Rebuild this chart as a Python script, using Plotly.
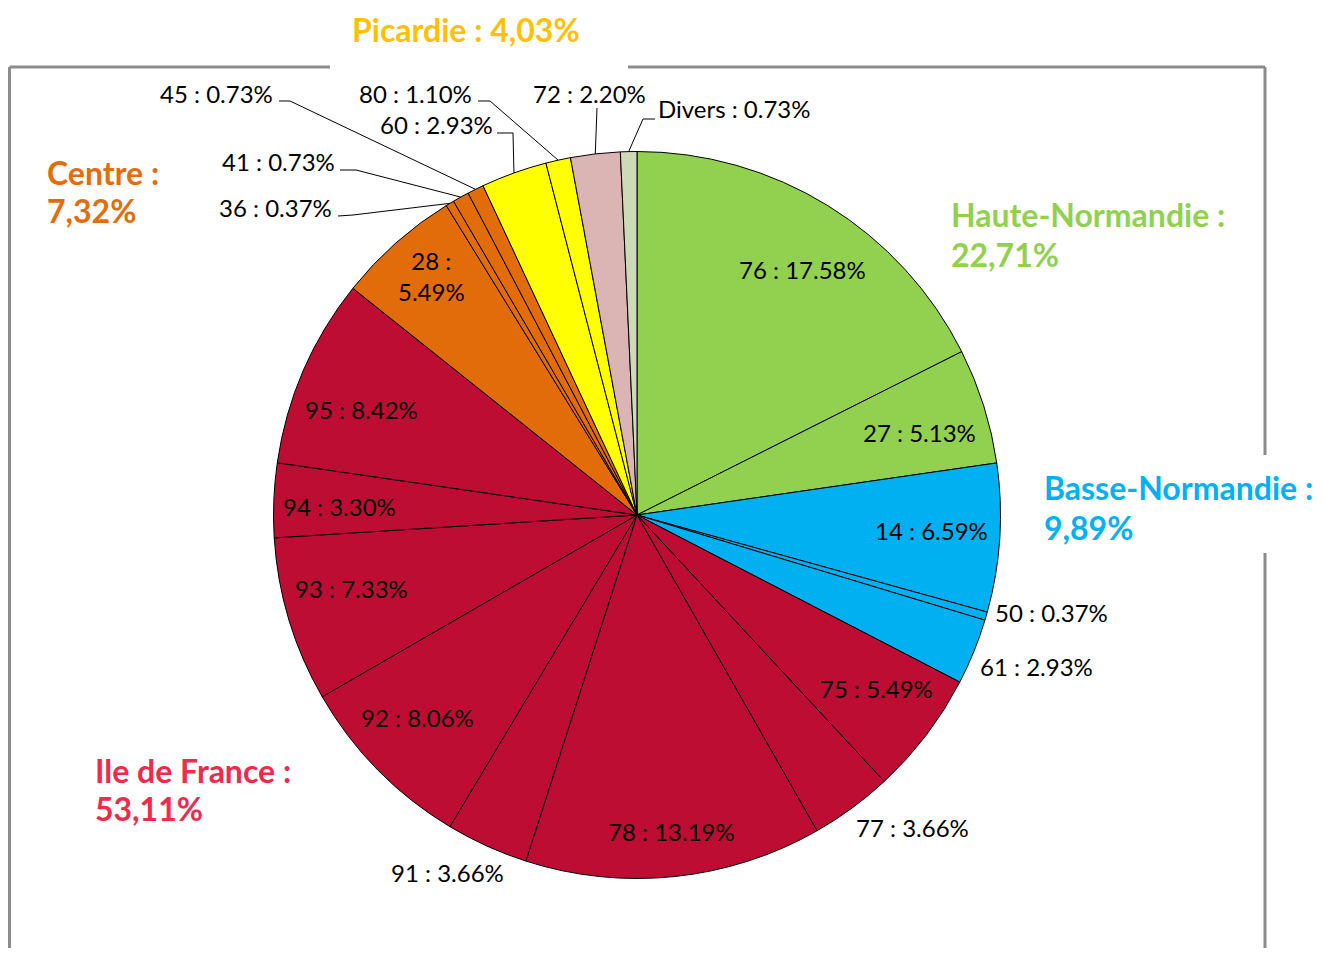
import math
import plotly.graph_objects as go

# ---------------- data ----------------
departements = ["76", "27", "14", "50", "61", "75", "77", "78", "91", "92", "93",
                "94", "95", "28", "36", "41", "45", "60", "80", "72", "Divers"]
parts = [17.58, 5.13, 6.59, 0.37, 2.93, 5.49, 3.66, 13.19, 3.66, 8.06, 7.33,
         3.30, 8.42, 5.49, 0.37, 0.73, 0.73, 2.93, 1.10, 2.20, 0.73]
regions = ["HN", "HN", "BN", "BN", "BN", "IDF", "IDF", "IDF", "IDF", "IDF", "IDF",
           "IDF", "IDF", "CE", "CE", "CE", "CE", "PI", "PI", "AUT", "DIV"]
region_names = ["Picardie", "Centre", "Haute-Normandie", "Basse-Normandie", "Ile de France"]
region_shares = ["4,03%", "7,32%", "22,71%", "9,89%", "53,11%"]

# ---------------- styles / layout ----------------
WIN_W, WIN_H = 1324, 956
OFF = 8  # page body margin of the html page
W, H = WIN_W - 2 * OFF, WIN_H - 2 * OFF
CX, CY, R = 637, 515, 363.5
region_colors = {"HN": "#92D050", "BN": "#00B0F0", "IDF": "#BE0D33", "CE": "#E36C0A",
                 "PI": "#FFFF00", "AUT": "#DBB4B4", "DIV": "#CCDAB5"}
title_colors = ["#FFC000", "#E46C0A", "#92D050", "#00B0F0", "#EE2A4D"]
# (x, y of first line, y of second line or None when on one line)
title_pos = [(350, 30, None), (45, 172, 210), (949, 214, 254),
             (1042, 488, 527), (93, 770, 808)]

LABEL_FONT = dict(family="Lato, Liberation Sans, sans-serif", size=24, color="#000000")
TITLE_FONT = dict(family="Lato, sans-serif", size=32)

# inside label placement: (radius factor, angle shift in degrees)
inside_place = {"76": (0.815, 2.3), "27": (0.81, 1.3), "14": (0.81, -0.7),
                "75": (0.815, -1.3), "78": (0.875, -0.3), "92": (0.82, 1.8),
                "93": (0.81, 2.4), "94": (0.818, -0.6), "95": (0.81, -2.5),
                "28": (0.867, 0.8)}
# outside labels: (x, y, xanchor)  + optional leader line elbow points
outside = {
    "50": (993, 612, "left", None),
    "61": (978, 666, "left", None),
    "77": (854, 827, "left", None),
    "91": (389, 872, "left", None),
    "45": (275, 93, "right", [(279, 101), (290, 101)]),
    "80": (474, 93, "right", [(478, 101), (490, 101)]),
    "60": (495, 125, "right", [(497, 133), (513, 133)]),
    "41": (337, 162, "right", [(340, 170), (356, 170)]),
    "36": (334, 208, "right", [(338, 216), (353, 215)]),
    "72": (589, 93, "center", [(597, 108)]),
    "Divers": (656, 109, "left", [(655, 119), (643, 119)]),
}


def px(x):
    return (x - OFF) / W


def py(y):
    return 1 - (y - OFF) / H


colors = [region_colors[r] for r in regions]

fig = go.Figure(go.Pie(
    labels=departements, values=parts, sort=False, direction="clockwise", rotation=0,
    marker=dict(colors=colors, line=dict(color="#000000", width=1)),
    textinfo="none", hoverinfo="label+percent", showlegend=False,
    domain=dict(x=[px(CX - R), px(CX + R)], y=[py(CY + R), py(CY - R)]),
))

annotations = []
shapes = []
total = sum(parts)
cum = 0.0
for dep, v in zip(departements, parts):
    mid = (cum + v / 2) / total * 2 * math.pi
    cum += v
    text = f"{dep} : {v:.2f}%"
    if dep in outside:
        x, y, anc, elbow = outside[dep]
        annotations.append(dict(x=px(x), y=py(y), xref="paper", yref="paper", text=text,
                                showarrow=False, xanchor=anc, yanchor="middle", font=LABEL_FONT))
        if elbow:
            ex, ey = CX + R * math.sin(mid), CY - R * math.cos(mid)
            pts = elbow + [(ex, ey)]
            path = "M " + " L ".join(f"{px(a)},{py(b)}" for a, b in pts)
            shapes.append(dict(type="path", path=path, xref="paper", yref="paper",
                               line=dict(color="#000000", width=1)))
    else:
        f, da = inside_place.get(dep, (0.82, 0.0))
        a = mid + math.radians(da)
        lx, ly = CX + f * R * math.sin(a), CY - f * R * math.cos(a)
        if dep == "28":
            text = f"{dep} :<br>{v:.2f}%"
        annotations.append(dict(x=px(lx), y=py(ly), xref="paper", yref="paper", text=text,
                                showarrow=False, xanchor="center", yanchor="middle", font=LABEL_FONT))

for name, share, c, (x, y1, y2) in zip(region_names, region_shares, title_colors, title_pos):
    lines = [(f"{name} : {share}", y1)] if y2 is None else [(f"{name} :", y1), (share, y2)]
    for t, y in lines:
        annotations.append(dict(x=px(x), y=py(y), xref="paper", yref="paper", text=f"<b>{t}</b>",
                                showarrow=False, xanchor="left", yanchor="middle",
                                font=dict(color=c, **TITLE_FONT)))

# gray frame segments
frame = [((9.5, 67), (330, 67)), ((628, 67), (1265, 67)), ((9.5, 67), (9.5, 970)),
         ((1265, 67), (1265, 455)), ((1265, 553), (1265, 970))]
for (x0, y0), (x1, y1) in frame:
    shapes.append(dict(type="line", xref="paper", yref="paper", x0=px(x0), y0=py(y0),
                       x1=px(x1), y1=py(y1), line=dict(color="#8C8C8C", width=3)))

fig.update_layout(width=W, height=H, margin=dict(l=0, r=0, t=0, b=0),
                  paper_bgcolor="white", plot_bgcolor="white",
                  annotations=annotations, shapes=shapes)
fig.write_html("out.html")
